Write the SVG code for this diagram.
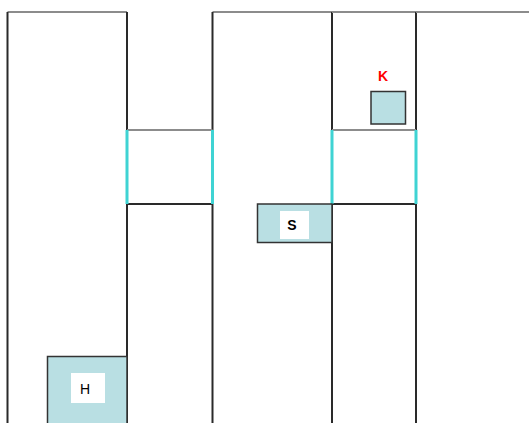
<svg xmlns="http://www.w3.org/2000/svg" width="529" height="423" viewBox="0 0 529 423">
<style>
.wall{stroke:#2a2a2a;stroke-width:2;fill:none}
.top{stroke:#8c8c8c;stroke-width:2;fill:none}
.door{stroke:#3fd3d3;stroke-width:3;fill:none}
.box{fill:#b9dfe3;stroke:#333;stroke-width:1.5}
.lbl{font-family:"Liberation Sans",Arial,sans-serif;font-weight:bold;font-size:14px;text-anchor:middle}
</style>
<rect width="529" height="423" fill="#fff"/>
<g id="room1">
<path class="top" d="M7.5 12 H127"/>
<path class="wall" d="M7.5 12 V423 M127 12 V130 M127 204 V423"/>
</g>
<g id="room2">
<path class="top" d="M212.5 12 H332"/>
<path class="wall" d="M212.5 12 V130 M212.5 204 V423 M332 12 V130 M332 204 V423"/>
</g>
<g id="room3">
<path class="top" d="M332 12 H416"/>
<path class="wall" d="M416 12 V130 M416 204 V423"/>
</g>
<g id="room4">
<path class="top" d="M416 12 H529"/>
</g>
<g id="connectors">
<path class="top" d="M127 130 H212.5 M332 130 H416"/>
<path class="wall" d="M127 204 H212.5 M332 204 H416" stroke="#555"/>
<path class="door" d="M127 130 V204 M212.5 130 V204 M332 130 V204 M416 130 V204"/>
</g>
<g id="K">
<rect class="box" x="371" y="91.5" width="34.5" height="32.5"/>
<text class="lbl" x="383" y="81" fill="#ff0000">K</text>
</g>
<g id="S">
<rect class="box" x="257.5" y="204" width="74.5" height="38.5"/>
<rect x="280" y="211" width="29" height="28" fill="#fff"/>
<text class="lbl" x="292" y="229.5" fill="#000">S</text>
</g>
<g id="H">
<rect class="box" x="47.5" y="356.5" width="79.5" height="70"/>
<rect x="71" y="373" width="34" height="30" fill="#fff"/>
<text class="lbl" x="85" y="394" fill="#000" style="font-weight:normal">H</text>
</g>
</svg>
